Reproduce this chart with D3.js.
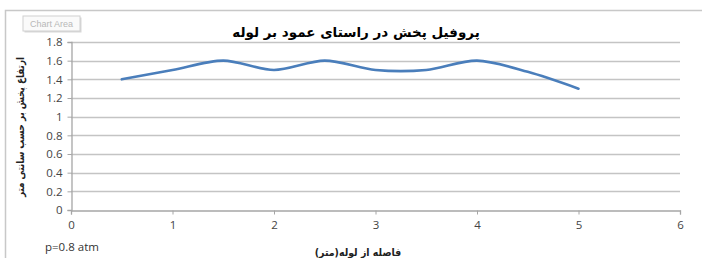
<!DOCTYPE html>
<html>
<head>
<meta charset="utf-8">
<script src="https://cdn.jsdelivr.net/npm/d3@7"></script>
<style>
  body { margin: 0; background: #fff; }
  svg { display: block; font-family: "Liberation Sans", Arial, sans-serif; }
</style>
</head>
<body>
<div id="chart"></div>
<script>
// distance from pipe (m) and spread height (cm)
var distances = [0.5, 1, 1.5, 2, 2.5, 3, 3.5, 4, 4.5, 5];
var heights = [1.4, 1.5, 1.6, 1.5, 1.6, 1.5, 1.5, 1.6, 1.48, 1.3];
var xTicks = [0, 1, 2, 3, 4, 5, 6];
var yTicks = [0, 0.2, 0.4, 0.6, 0.8, 1, 1.2, 1.4, 1.6, 1.8];
var title = "پروفیل پخش در راستای عمود بر لوله";
var xTitle = "فاصله از لوله(متر)";
var yTitle = "ارتفاع پخش بر حسب سانتی متر";
var note = "p=0.8 atm";

var width = 702, height = 258;
var svg = d3.select("#chart").append("svg")
    .attr("width", width)
    .attr("height", height);

// chart area frame (top + left edges visible)
svg.append("path")
    .attr("d", "M5.5,258 L5.5,10.5 L702,10.5")
    .attr("fill", "none")
    .attr("stroke", "#c8c8c8")
    .attr("stroke-width", 1.5);

// "Chart Area" hover tag
var tag = svg.append("g").attr("transform", "translate(23,16)");
tag.append("rect")
    .attr("x", 1.5).attr("y", 1.5)
    .attr("width", 57).attr("height", 15)
    .attr("fill", "#d8d8d8");
tag.append("rect")
    .attr("width", 57).attr("height", 15)
    .attr("fill", "#fafafa")
    .attr("stroke", "#d0d0d0");
tag.append("text")
    .attr("x", 28.5).attr("y", 11)
    .attr("text-anchor", "middle")
    .attr("font-size", 9)
    .attr("fill", "#b8b8b8")
    .text("Chart Area");

var x = d3.scaleLinear().domain([0, 6]).range([71, 680]);
var y = d3.scaleLinear().domain([0, 1.8]).range([210, 42]);

// gridlines
svg.append("g")
    .selectAll("line")
    .data(yTicks.slice(1))
    .enter()
    .append("line")
    .attr("x1", x(0)).attr("x2", x(6))
    .attr("y1", function(d){ return Math.round(y(d)) + 0.5; })
    .attr("y2", function(d){ return Math.round(y(d)) + 0.5; })
    .attr("stroke", "#c4c4c4")
    .attr("stroke-width", 1.3);

// axes
var yAxis = svg.append("g")
    .attr("transform", "translate(" + (x(0) + 0.5) + ",0)")
    .call(d3.axisLeft(y).tickValues(yTicks).tickSize(4).tickPadding(5)
      .tickFormat(function(d){ return d3.format("")(+d.toFixed(1)); }));
var xAxis = svg.append("g")
    .attr("transform", "translate(0," + (Math.round(y(0)) + 0.5) + ")")
    .call(d3.axisBottom(x).tickValues(xTicks).tickSize(4).tickPadding(6)
      .tickFormat(d3.format("d")));

[xAxis, yAxis].forEach(function(a){
  a.select(".domain").attr("stroke", "#a6a6a6").attr("stroke-width", 1.3);
  a.selectAll(".tick line").attr("stroke", "#a6a6a6");
  a.selectAll("text")
      .attr("font-size", 11.5)
      .attr("fill", "#444")
      .attr("font-family", "'Open Sans', 'Liberation Sans', sans-serif");
});

// data line, smoothed like the spreadsheet line
var line = d3.line()
    .x(function(d, i){ return x(distances[i]); })
    .y(function(d){ return y(d); })
    .curve(d3.curveCardinal.tension(0.1));

svg.append("path")
    .datum(heights)
    .attr("d", line)
    .attr("fill", "none")
    .attr("stroke", "#4a7ebb")
    .attr("stroke-width", 2.6)
    .attr("stroke-linecap", "round");

// titles
svg.append("text")
    .attr("x", 356).attr("y", 37)
    .attr("text-anchor", "middle")
    .attr("font-weight", "bold")
    .attr("fill", "#000")
    .attr("font-family", "'DejaVu Sans', sans-serif")
    .style("font-size", "13.5px")
    .text(title);

svg.append("text")
    .attr("transform", "translate(24,127) rotate(-90) scale(0.8,1)")
    .attr("text-anchor", "middle")
    .attr("font-size", 11)
    .attr("font-weight", "bold")
    .attr("fill", "#222")
    .attr("font-family", "'DejaVu Sans', sans-serif")
    .text(yTitle);

svg.append("text")
    .attr("transform", "translate(358,256) scale(0.9,1)")
    .attr("text-anchor", "middle")
    .attr("font-size", 10.5)
    .attr("font-weight", "bold")
    .attr("fill", "#222")
    .attr("font-family", "'DejaVu Sans', sans-serif")
    .text(xTitle);

svg.append("text")
    .attr("x", 45).attr("y", 251)
    .attr("font-size", 11.5)
    .attr("fill", "#333")
    .attr("font-family", "'Open Sans', 'Liberation Sans', sans-serif")
    .text(note);
</script>
</body>
</html>
